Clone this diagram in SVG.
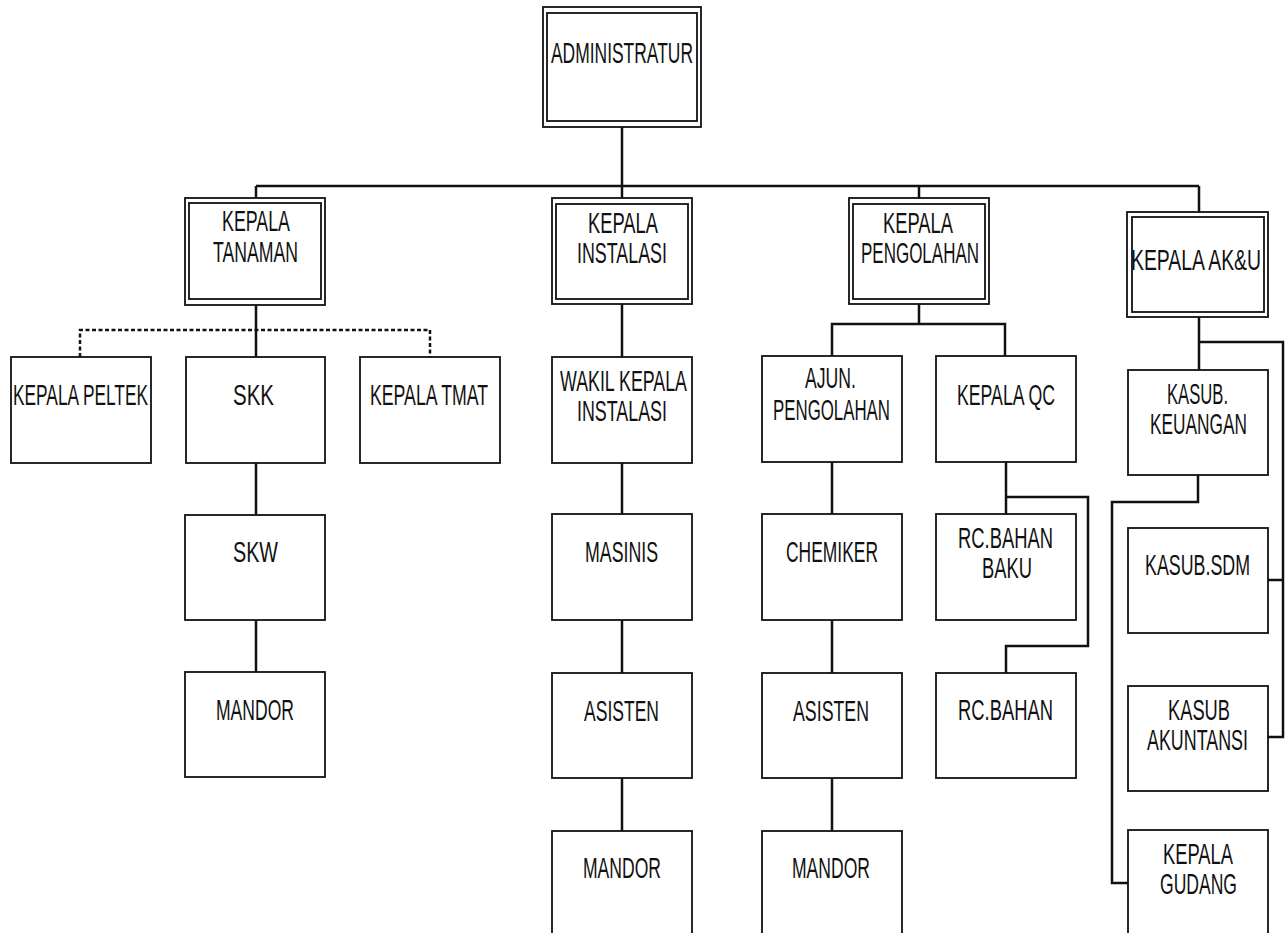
<svg xmlns="http://www.w3.org/2000/svg" width="1285" height="933" viewBox="0 0 1285 933">
<style>
.b{fill:#fff;stroke:#111;stroke-width:1.8}
.t{font-family:"Liberation Sans",Arial,sans-serif;font-size:30px;fill:#111}
.c{fill:none;stroke:#111;stroke-width:2.5}
.d{fill:none;stroke:#111;stroke-width:2.5;stroke-dasharray:4 2.5}
</style>
<rect width="1285" height="933" fill="#fff"/>
<g id="connectors">
<path class="c" d="M622 127V186M256 186H1199M256 186V198M622 186V198M919 186V198M1199 186V212" stroke-width="2"/>
<path class="c" d="M256 305V357M256 463V515M256 620V672"/>
<path class="d" d="M80 357V330H430V357"/>
<path class="c" d="M622 304V357M622 463V514M622 620V673M622 778V831"/>
<path class="c" d="M919 304V324M832 356V324H1005V356M832 462V514M832 620V673M832 778V831"/>
<path class="c" d="M1006 462V514M1006 497H1088V646H1006V673"/>
<path class="c" d="M1199 317V370M1199 342H1283V737H1268M1283 580H1268"/>
<path class="c" d="M1198 475V502H1112V883H1128"/>
</g>
<g id="administratur">
<rect class="b" x="543" y="7" width="158" height="120"/>
<rect class="b" x="547" y="13" width="150" height="108"/>
<text class="t" x="551" y="63" textLength="142" lengthAdjust="spacingAndGlyphs">ADMINISTRATUR</text>
</g>
<g id="kepala-tanaman">
<rect class="b" x="185" y="198" width="140" height="107"/>
<rect class="b" x="189" y="203" width="132" height="96"/>
<text class="t" x="222" y="231" textLength="68" lengthAdjust="spacingAndGlyphs">KEPALA</text>
<text class="t" x="213" y="262" textLength="85" lengthAdjust="spacingAndGlyphs">TANAMAN</text>
</g>
<g id="kepala-instalasi">
<rect class="b" x="552" y="198" width="140" height="106"/>
<rect class="b" x="556" y="204" width="132" height="95"/>
<text class="t" x="588" y="233" textLength="70" lengthAdjust="spacingAndGlyphs">KEPALA</text>
<text class="t" x="577" y="263" textLength="90" lengthAdjust="spacingAndGlyphs">INSTALASI</text>
</g>
<g id="kepala-pengolahan">
<rect class="b" x="849" y="198" width="140" height="106"/>
<rect class="b" x="853" y="204" width="132" height="95"/>
<text class="t" x="883" y="233" textLength="70" lengthAdjust="spacingAndGlyphs">KEPALA</text>
<text class="t" x="861" y="263" textLength="118" lengthAdjust="spacingAndGlyphs">PENGOLAHAN</text>
</g>
<g id="kepala-aku">
<rect class="b" x="1127" y="212" width="141" height="105"/>
<rect class="b" x="1132" y="217" width="132" height="95"/>
<text class="t" x="1131" y="270" textLength="130" lengthAdjust="spacingAndGlyphs">KEPALA AK&amp;U</text>
</g>
<g id="kepala-peltek">
<rect class="b" x="11" y="357" width="140" height="106"/>
<text class="t" x="13" y="405" textLength="135" lengthAdjust="spacingAndGlyphs">KEPALA PELTEK</text>
</g>
<g id="skk">
<rect class="b" x="186" y="357" width="139" height="106"/>
<text class="t" x="233" y="405" textLength="41" lengthAdjust="spacingAndGlyphs">SKK</text>
</g>
<g id="kepala-tmat">
<rect class="b" x="360" y="357" width="140" height="106"/>
<text class="t" x="370" y="405" textLength="118" lengthAdjust="spacingAndGlyphs">KEPALA TMAT</text>
</g>
<g id="skw">
<rect class="b" x="185" y="515" width="140" height="105"/>
<text class="t" x="233" y="562" textLength="45" lengthAdjust="spacingAndGlyphs">SKW</text>
</g>
<g id="mandor-tanaman">
<rect class="b" x="185" y="672" width="140" height="105"/>
<text class="t" x="216" y="720" textLength="78" lengthAdjust="spacingAndGlyphs">MANDOR</text>
</g>
<g id="wakil-kepala-instalasi">
<rect class="b" x="552" y="357" width="140" height="106"/>
<text class="t" x="560" y="391" textLength="127" lengthAdjust="spacingAndGlyphs">WAKIL KEPALA</text>
<text class="t" x="577" y="421" textLength="90" lengthAdjust="spacingAndGlyphs">INSTALASI</text>
</g>
<g id="masinis">
<rect class="b" x="552" y="514" width="140" height="106"/>
<text class="t" x="585" y="562" textLength="73" lengthAdjust="spacingAndGlyphs">MASINIS</text>
</g>
<g id="asisten-instalasi">
<rect class="b" x="552" y="673" width="140" height="105"/>
<text class="t" x="584" y="721" textLength="75" lengthAdjust="spacingAndGlyphs">ASISTEN</text>
</g>
<g id="mandor-instalasi">
<rect class="b" x="552" y="831" width="140" height="110"/>
<text class="t" x="583" y="878" textLength="78" lengthAdjust="spacingAndGlyphs">MANDOR</text>
</g>
<g id="ajun-pengolahan">
<rect class="b" x="762" y="356" width="140" height="106"/>
<text class="t" x="805" y="388" textLength="51" lengthAdjust="spacingAndGlyphs">AJUN.</text>
<text class="t" x="773" y="420" textLength="117" lengthAdjust="spacingAndGlyphs">PENGOLAHAN</text>
</g>
<g id="chemiker">
<rect class="b" x="762" y="514" width="140" height="106"/>
<text class="t" x="786" y="562" textLength="92" lengthAdjust="spacingAndGlyphs">CHEMIKER</text>
</g>
<g id="asisten-pengolahan">
<rect class="b" x="762" y="673" width="140" height="105"/>
<text class="t" x="793" y="721" textLength="76" lengthAdjust="spacingAndGlyphs">ASISTEN</text>
</g>
<g id="mandor-pengolahan">
<rect class="b" x="762" y="831" width="140" height="110"/>
<text class="t" x="792" y="878" textLength="78" lengthAdjust="spacingAndGlyphs">MANDOR</text>
</g>
<g id="kepala-qc">
<rect class="b" x="936" y="356" width="140" height="106"/>
<text class="t" x="957" y="405" textLength="98" lengthAdjust="spacingAndGlyphs">KEPALA QC</text>
</g>
<g id="rc-bahan-baku">
<rect class="b" x="936" y="514" width="140" height="106"/>
<text class="t" x="958" y="548" textLength="95" lengthAdjust="spacingAndGlyphs">RC.BAHAN</text>
<text class="t" x="982" y="578" textLength="50" lengthAdjust="spacingAndGlyphs">BAKU</text>
</g>
<g id="rc-bahan">
<rect class="b" x="936" y="673" width="140" height="105"/>
<text class="t" x="958" y="720" textLength="95" lengthAdjust="spacingAndGlyphs">RC.BAHAN</text>
</g>
<g id="kasub-keuangan">
<rect class="b" x="1128" y="370" width="140" height="105"/>
<text class="t" x="1167" y="404" textLength="61" lengthAdjust="spacingAndGlyphs">KASUB.</text>
<text class="t" x="1150" y="434" textLength="97" lengthAdjust="spacingAndGlyphs">KEUANGAN</text>
</g>
<g id="kasub-sdm">
<rect class="b" x="1128" y="528" width="140" height="105"/>
<text class="t" x="1145" y="575" textLength="105" lengthAdjust="spacingAndGlyphs">KASUB.SDM</text>
</g>
<g id="kasub-akuntansi">
<rect class="b" x="1128" y="686" width="140" height="105"/>
<text class="t" x="1168" y="720" textLength="62" lengthAdjust="spacingAndGlyphs">KASUB</text>
<text class="t" x="1147" y="750" textLength="101" lengthAdjust="spacingAndGlyphs">AKUNTANSI</text>
</g>
<g id="kepala-gudang">
<rect class="b" x="1128" y="830" width="140" height="110"/>
<text class="t" x="1163" y="864" textLength="70" lengthAdjust="spacingAndGlyphs">KEPALA</text>
<text class="t" x="1160" y="894" textLength="77" lengthAdjust="spacingAndGlyphs">GUDANG</text>
</g>
</svg>
